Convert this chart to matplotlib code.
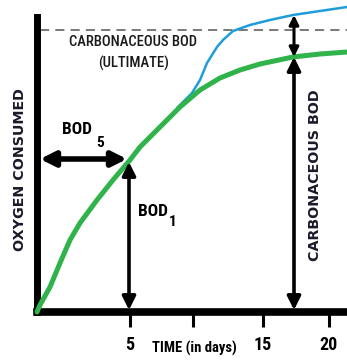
import os
import matplotlib
matplotlib.use('Agg')
import matplotlib.pyplot as plt
from matplotlib.font_manager import FontProperties

plt.rcParams['font.family'] = ['Roboto Condensed', 'DejaVu Sans']

# 竖排文字用宽体 DejaVu Sans Bold
dejavu = os.path.join(matplotlib.get_data_path(), 'fonts', 'ttf', 'DejaVuSans-Bold.ttf')

# 坐标单位：横轴 0~310，纵轴 0~312（示意图，时间轴不按比例）
green_x = [0, 3, 13, 23, 33, 43, 60, 76, 93, 103, 123, 143, 163, 183, 203, 223, 256, 283, 310]
green_y = [0, 7, 25, 49, 72, 89, 112, 132, 152, 165, 185, 205, 222, 234, 242, 248, 255, 258, 260]

blue_x = [141, 155, 163, 170, 180, 186, 196, 213, 233, 256, 283, 310]
blue_y = [205, 219, 232, 249, 265, 272, 281, 287, 292, 297, 301, 305]

ultimate_y = 282
bod5_y = 153
bod5_x = 92
carb_x = 257

tick_pos = [93, 156, 226, 292]
tick_labels = ['5', '', '15', '20']

fig = plt.figure(figsize=(3.47, 3.60), dpi=100)
ax = fig.add_axes([37 / 347, 48 / 360, 310 / 347, 312 / 360])
ax.set_xlim(0, 310)
ax.set_ylim(0, 312)

# 坐标轴
for s in ['top', 'right']:
    ax.spines[s].set_visible(False)
ax.spines['left'].set_linewidth(5)
ax.spines['bottom'].set_linewidth(5.5)
ax.spines['left'].set_bounds(0, 295)
ax.set_yticks([])
ax.set_xticks(tick_pos)
ax.set_xticklabels(tick_labels, fontsize=13, fontweight='bold')
ax.tick_params(axis='x', length=11, width=2.2, pad=6)

# 曲线
ax.plot(blue_x, blue_y, color='#1f9ddb', lw=1.8, clip_on=False, zorder=3,
        solid_joinstyle='round')
ax.plot(green_x, green_y, color='#2fb34a', lw=3.6, clip_on=False, zorder=4,
        solid_capstyle='round', solid_joinstyle='round')
ax.plot([3, 310], [ultimate_y, ultimate_y], color='#555555', lw=1.1,
        dashes=(6, 4), clip_on=False, zorder=2)

# 箭头
def arrow(x0, y0, x1, y1, lw, ms):
    ax.annotate('', xy=(x1, y1), xytext=(x0, y0),
                arrowprops=dict(arrowstyle='<|-|>', color='black', lw=lw,
                                mutation_scale=ms, shrinkA=0, shrinkB=0),
                zorder=5, annotation_clip=False)

arrow(3, bod5_y, bod5_x - 2, bod5_y, 4, 22)
arrow(bod5_x, 2, bod5_x, bod5_y - 3, 2.6, 20)
arrow(carb_x, 2, carb_x, 255, 2.6, 20)
arrow(carb_x, 255, carb_x, 297, 2.2, 14)

# 文字
ax.text(96, 270, 'CARBONACEOUS BOD', ha='center', va='center', fontsize=10.5,
        fontweight='medium', color='#1a1a1a')
ax.text(97, 249, '(ULTIMATE)', ha='center', va='center', fontsize=10.5,
        fontweight='medium', color='#1a1a1a')
ax.text(40, 182, 'BOD', ha='center', va='center', fontsize=12.5, fontweight='bold')
ax.text(63, 169, '5', ha='center', va='center', fontsize=11, fontweight='bold')
ax.text(116, 100, 'BOD', ha='center', va='center', fontsize=12.5, fontweight='bold')
ax.text(136, 90, '1', ha='center', va='center', fontsize=11, fontweight='bold')
vfont = FontProperties(fname=dejavu, size=10.3)
ax.text(278, 137, 'CARBONACEOUS BOD', ha='center', va='center', rotation=90,
        fontproperties=vfont, color='#1a1a2a')
ax.text(-17, 142, 'OXYGEN CONSUMED', ha='center', va='center', rotation=90,
        fontproperties=vfont, color='#1a1a2a', clip_on=False)
ax.text(157, -36, 'TIME (in days)', ha='center', va='center', fontsize=10.5,
        fontweight='bold', clip_on=False)

fig.savefig('out.png', dpi=100)
